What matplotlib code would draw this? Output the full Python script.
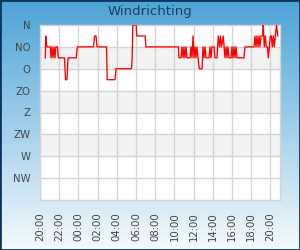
import matplotlib

matplotlib.use("Agg")
import matplotlib.pyplot as plt
import numpy as np
from matplotlib.patches import Rectangle

# hours since 20:00 and wind direction in degrees (0 = N, 45 = NO, ...)
hours = [0.55, 0.60, 0.71, 1.07, 1.15, 1.25, 1.35, 1.46, 1.56, 1.65, 1.82, 1.91,
         2.55, 2.66, 2.81, 2.92, 3.78, 3.89, 5.57, 5.68, 5.83, 5.94, 6.93, 7.00,
         7.81, 7.92, 9.53, 9.60, 9.67, 10.02, 10.08, 10.94, 11.04,
         14.41, 14.48, 14.69, 14.79, 14.90, 15.00, 15.10, 15.21, 15.31, 15.63,
         15.73, 15.83, 15.94, 16.04, 16.15, 16.25, 16.35, 16.46, 16.59, 16.88,
         16.98, 17.08, 17.19, 17.29, 17.60, 17.71, 17.81, 17.92, 18.13, 18.23,
         18.44, 18.57, 18.70, 18.80, 18.91, 19.09, 19.27, 19.38, 19.48, 19.58,
         19.69, 19.90, 20.00, 20.10, 20.21, 20.31, 20.42, 20.52, 21.25, 21.35,
         22.29, 22.40, 22.50, 22.60, 22.71, 22.81, 22.92, 23.02, 23.18, 23.26,
         23.36, 23.47, 23.57, 23.70, 23.78, 23.89, 23.99, 24.09, 24.20, 24.30,
         24.41, 24.51, 24.64, 24.77]
direction = [67.5, 22.5, 45, 45, 67.5, 45, 67.5, 45, 67.5, 45, 45, 67.5,
             67.5, 112.5, 112.5, 67.5, 67.5, 45, 45, 22.5, 22.5, 45, 45, 112.5,
             112.5, 90, 90, 67.5, 0, 0, 22.5, 22.5, 45,
             45, 67.5, 67.5, 45, 67.5, 45, 67.5, 45, 67.5, 67.5,
             45, 67.5, 22.5, 67.5, 45, 67.5, 45, 67.5, 90, 90,
             45, 67.5, 45, 67.5, 67.5, 45, 67.5, 45, 45, 67.5,
             67.5, 22.5, 45, 22.5, 45, 22.5, 67.5, 45, 67.5, 45,
             67.5, 67.5, 45, 67.5, 45, 67.5, 45, 67.5, 67.5, 45,
             45, 22.5, 45, 22.5, 45, 22.5, 45, 22.5, 22.5, 0,
             45, 22.5, 45, 45, 67.5, 45, 22.5, 22.5, 45, 22.5,
             45, 22.5, 0, 22.5]

dir_labels = ["N", "NO", "O", "ZO", "Z", "ZW", "W", "NW"]
dir_ticks = [0, 45, 90, 135, 180, 225, 270, 315]
time_labels = ["20:00", "22:00", "00:00", "02:00", "04:00", "06:00", "08:00",
               "10:00", "12:00", "14:00", "16:00", "18:00", "20:00"]
time_ticks = [0, 2, 4, 6, 8, 10, 12, 14, 16, 18, 20, 22, 24]


def main():
    fig = plt.figure(figsize=(3, 2.5), dpi=100)

    # gradient background + dark border
    bg = fig.add_axes([0, 0, 1, 1], zorder=-10)
    grad = np.linspace(0, 1, 256)[:, None]
    top = np.array([0.30, 0.64, 0.84])
    bottom = np.array([0.96, 0.98, 0.99])
    img = top + (bottom - top) * grad[..., None]
    bg.imshow(img, aspect="auto", extent=[0, 1, 0, 1])
    bg.add_patch(Rectangle((0, 0), 1, 1, transform=bg.transAxes, fill=False,
                           edgecolor="#0b355e", linewidth=2))
    bg.set_axis_off()

    ax = fig.add_axes([40 / 300, 0.2, 240 / 300, 0.7])
    ax.set_facecolor("white")
    for lo in (45, 135, 225):
        ax.axhspan(lo, lo + 45, color="#f2f2f2", zorder=0)
    ax.plot(hours, direction, color="#ff0000", linewidth=0.95, zorder=3)

    ax.set_xlim(0, 25)
    ax.set_ylim(360, 0)
    ax.set_yticks(dir_ticks)
    ax.set_yticklabels(dir_labels)
    ax.set_xticks(time_ticks)
    ax.set_xticklabels(time_labels, rotation=90)
    ax.tick_params(axis="both", length=0, labelsize=7.3, colors="#444444")
    ax.tick_params(axis="y", pad=7)
    ax.tick_params(axis="x", pad=9)
    ax.grid(True, color="#d4d4d4", linewidth=1, zorder=1)
    ax.set_axisbelow(True)
    for s in ax.spines.values():
        s.set_color("#d4d4d4")
        s.set_linewidth(1)

    fig.text(0.5, 1 - 12 / 250, "Windrichting", ha="center", va="center",
             fontsize=9.5, color="#1c3d5e")
    fig.savefig("out.png", dpi=100)


if __name__ == "__main__":
    main()
